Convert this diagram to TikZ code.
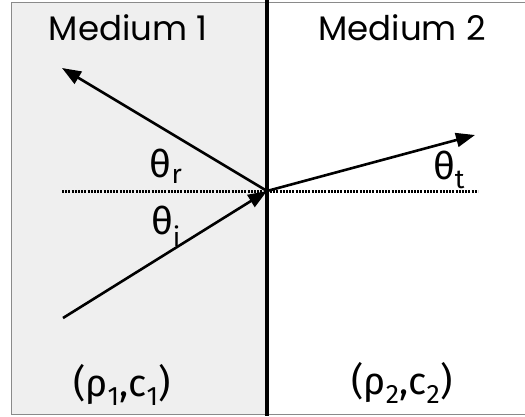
\documentclass[tikz,border=0pt]{standalone}
\usepackage{fontspec}
\setmainfont{Poppins}
\newfontfamily\greekfont{Fira Sans}
\usetikzlibrary{arrows.meta}
\definecolor{medgray}{HTML}{EFEFEF}
\definecolor{edgegray}{HTML}{8A8A8A}
\begin{document}
\begin{tikzpicture}[x=1pt,y=-1pt,
  ray/.style={line width=2.6pt,-{Triangle[length=19pt,width=14pt]}},
  lbl/.style={font=\fontsize{34}{34}\selectfont,inner sep=0pt},
  gk/.style={font=\greekfont\fontsize{38}{38}\selectfont,inner sep=0pt},
  guide/.style={line width=3pt,dash pattern=on 2pt off 1.2pt}]
\useasboundingbox (0,0) rectangle (525,416);
\fill[white] (0,0) rectangle (525,416);
\draw[edgegray,fill=medgray,line width=0.8pt] (11,2) rectangle (267,414);
\draw[edgegray,line width=0.8pt] (267,2) -- (525,2);
\draw[edgegray,line width=0.8pt] (267,414) -- (525,414);
\coordinate (o) at (267,191);
\coordinate (inc) at (63,318);
\coordinate (ref) at (62,68);
\coordinate (tra) at (475,135);
\coordinate (gl) at (62,191);
\coordinate (gr) at (478,191);
\draw[guide] (gl) -- (gr);
\draw[line width=4.5pt] (267,0) -- (267,416);
\draw[ray] (inc) -- (o);
\draw[ray] (o) -- (ref);
\draw[ray] (o) -- (tra);
\node[lbl] (m1) at (128,28) {Medium 1};
\node[lbl] (m2) at (402,28) {Medium 2};
\node[gk] (tr) at (166,166) {θ\textsubscript{r}};
\node[gk] (ti) at (166,226) {θ\textsubscript{i}};
\node[gk] (tt) at (449,170) {θ\textsubscript{t}};
\node[gk] (p1) at (122,385) {(ρ\textsubscript{1},c\textsubscript{1})};
\node[gk] (p2) at (402,383) {(ρ\textsubscript{2},c\textsubscript{2})};
\end{tikzpicture}
\end{document}
